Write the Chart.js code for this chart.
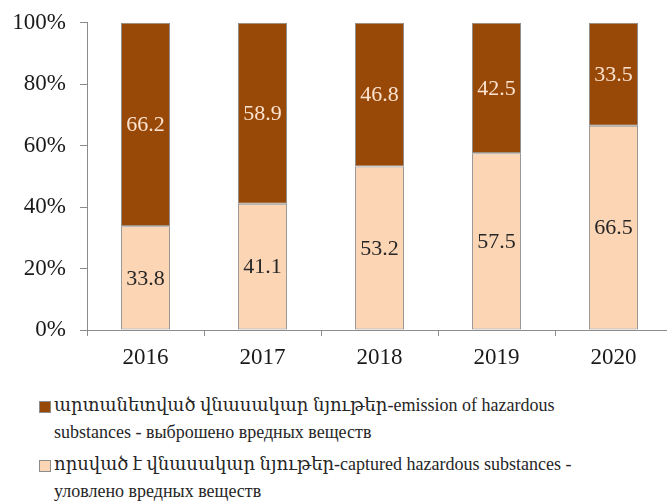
<!DOCTYPE html>
<html>
<head>
<meta charset="utf-8">
<script src="https://cdn.jsdelivr.net/npm/chart.js@4"></script>
<style>
    html, body { margin: 0; padding: 0; background: #fff; }
    body { width: 667px; height: 503px; overflow: hidden; position: relative; }
    #wrap { position: absolute; left: 0; top: -5px; width: 680px; height: 385px; }
    #legend { position: absolute; left: 39px; top: 392px; font-family: "Liberation Serif", "DejaVu Serif", serif; font-size: 18px; color: #262626; }
    .item { display: flex; align-items: flex-start; margin-bottom: 5px; }
    .box { width: 10px; height: 10px; border: 1px solid #8c8c8c; margin-top: 9px; margin-right: 3px; flex: none; }
    .txt { line-height: 27px; white-space: pre-line; }
</style>
</head>
<body>
<div id="wrap"><canvas id="chart" width="680" height="385"></canvas></div>
<div id="legend"></div>

<script>
// chart data
const years = ['2016', '2017', '2018', '2019', '2020'];
const captured = [33.8, 41.1, 53.2, 57.5, 66.5];
const emitted = [66.2, 58.9, 46.8, 42.5, 33.5];
const yTicks = [0, 20, 40, 60, 80, 100];

const capturedLabel = 'որսված է վնասակար նյութեր-captured hazardous substances -\nуловлено вредных веществ';
const emittedLabel = 'արտանետված  վնասակար նյութեր-emission of hazardous\nsubstances  - выброшено вредных веществ';

const darkBrown = '#984807';
const peach = '#fcd5b5';
const axisGray = '#8c8c8c';
const serif = '"Liberation Serif", "DejaVu Serif", serif';

// value labels in the middle of each segment
const valueLabels = {
    id: 'valueLabels',
    afterDatasetsDraw(chart) {
        const ctx = chart.ctx;
        ctx.save();
        ctx.font = '22px ' + serif;
        ctx.textAlign = 'center';
        ctx.textBaseline = 'middle';
        chart.data.datasets.forEach(function(ds, i) {
            const meta = chart.getDatasetMeta(i);
            meta.data.forEach(function(bar, j) {
                const p = bar.getProps(['x', 'y', 'base'], true);
                ctx.fillStyle = ds.labelColor;
                ctx.fillText(ds.data[j].toFixed(1), p.x, (p.y + p.base) / 2 + 1);
            });
        });
        ctx.restore();
    }
};

const chart = new Chart(document.getElementById('chart'), {
    type: 'bar',
    data: {
        labels: years,
        datasets: [{
            label: capturedLabel,
            data: captured,
            backgroundColor: peach,
            borderColor: axisGray,
            borderWidth: 1,
            borderSkipped: false,
            labelColor: '#262626'
        }, {
            label: emittedLabel,
            data: emitted,
            backgroundColor: darkBrown,
            borderColor: axisGray,
            borderWidth: 1,
            borderSkipped: false,
            labelColor: '#fbe3d0'
        }]
    },
    options: {
        responsive: false,
        animation: false,
        devicePixelRatio: 1,
        layout: { padding: { top: 18, right: 8 } },
        datasets: { bar: { barPercentage: 0.42, categoryPercentage: 1.0 } },
        plugins: {
            legend: { display: false },
            tooltip: { enabled: false }
        },
        scales: {
            x: {
                stacked: true,
                grid: { display: true, drawOnChartArea: false, offset: true, tickLength: 6, color: axisGray },
                border: { color: axisGray, width: 1 },
                ticks: { color: '#1a1a1a', font: { family: serif, size: 23 }, padding: 8 },
                afterFit: function(scale) { scale.height = 50; }
            },
            y: {
                stacked: true,
                min: 0,
                max: 100,
                afterBuildTicks: function(scale) {
                    scale.ticks = yTicks.map(function(v) { return { value: v }; });
                },
                grid: { display: true, drawOnChartArea: false, tickLength: 7, color: axisGray },
                border: { color: axisGray, width: 1 },
                ticks: {
                    color: '#1a1a1a',
                    font: { family: serif, size: 23 },
                    padding: 14,
                    callback: function(v) { return v + '%'; }
                },
                afterFit: function(scale) { scale.width = 87; }
            }
        }
    },
    plugins: [valueLabels]
});

// html legend, top series first
const legendEl = document.getElementById('legend');
chart.data.datasets.slice().reverse().forEach(function(ds) {
    const item = document.createElement('div');
    item.className = 'item';
    const box = document.createElement('span');
    box.className = 'box';
    box.style.background = ds.backgroundColor;
    const txt = document.createElement('span');
    txt.className = 'txt';
    txt.textContent = ds.label;
    item.appendChild(box);
    item.appendChild(txt);
    legendEl.appendChild(item);
});
</script>
</body>
</html>
